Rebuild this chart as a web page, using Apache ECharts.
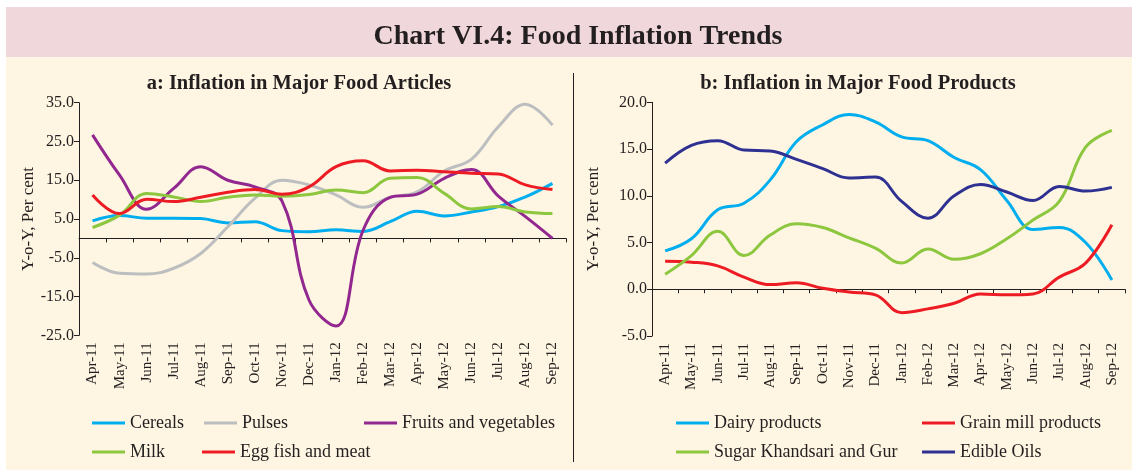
<!DOCTYPE html>
<html>
<head>
<meta charset="utf-8">
<script src="https://cdn.jsdelivr.net/npm/echarts@6/dist/echarts.min.js"></script>
<style>
  html, body { margin: 0; padding: 0; background: #fff; }
  #chart { width: 1132px; height: 470px; }
</style>
</head>
<body>
<div id="chart"></div>
<script>
// months on both panels
var months = ['Apr-11','May-11','Jun-11','Jul-11','Aug-11','Sep-11','Oct-11','Nov-11','Dec-11',
  'Jan-12','Feb-12','Mar-12','Apr-12','May-12','Jun-12','Jul-12','Aug-12','Sep-12']

// panel a: food articles
var cereals = [4.5, 5.9, 5.2, 5.2, 5.1, 4.0, 4.3, 2.0, 1.7, 2.2, 1.8, 4.3, 7.0, 5.8, 6.8, 8.2, 10.7, 14.2]
var pulses = [-6.2, -9.0, -9.2, -7.7, -3.9, 3.0, 10.3, 15.0, 13.8, 11.2, 8.0, 10.6, 12.0, 17.4, 20.4, 28.8, 34.6, 29.2]
var fruitsVeg = [26.7, 16.3, 7.5, 12.9, 18.5, 15.0, 13.3, 9.7, -15.9, -22.6, 2.1, 10.6, 11.4, 15.5, 17.8, 10.9, 5.6, 0.0]
var milk = [2.8, 6.0, 11.6, 10.7, 9.5, 10.6, 11.2, 10.9, 11.3, 12.5, 11.8, 15.5, 15.7, 11.6, 7.6, 8.2, 6.8, 6.4]
var eggFishMeat = [11.2, 6.4, 10.1, 9.5, 10.6, 11.9, 12.6, 11.4, 13.3, 18.5, 20.0, 17.4, 17.6, 17.2, 16.8, 16.6, 13.8, 12.6]
var ticksA = [-25, -15, -5, 5, 15, 25, 35]

// panel b: food products
var dairy = [4.1, 5.4, 8.5, 9.2, 11.7, 15.8, 17.6, 18.7, 17.9, 16.3, 15.9, 14.1, 12.8, 9.5, 6.4, 6.6, 5.0, 1.0]
var grainMill = [3.0, 2.9, 2.5, 1.3, 0.5, 0.7, 0.1, -0.3, -0.6, -2.5, -2.1, -1.5, -0.5, -0.6, -0.5, 1.3, 2.8, 6.9]
var sugar = [1.6, 3.6, 6.2, 3.6, 5.8, 7.0, 6.6, 5.5, 4.4, 2.8, 4.3, 3.2, 3.8, 5.4, 7.4, 9.4, 15.2, 17.0]
var edibleOils = [13.5, 15.4, 15.9, 14.9, 14.8, 13.9, 12.9, 11.9, 12.0, 9.4, 7.6, 10.0, 11.2, 10.4, 9.5, 11.0, 10.5, 10.9]

var font = "'Liberation Serif', 'Times New Roman', serif"
var ink = '#231f20'
var cBlue = '#00aeef', cGrey = '#bcbec0', cPurple = '#92278f', cGreen = '#8dc63f', cRed = '#ed1c24', cNavy = '#2e3192'

var chart = echarts.init(document.getElementById('chart'))

function labelAxis(grid) {
  return {
    type: 'category', gridIndex: grid, data: months, position: 'bottom',
    boundaryGap: true,
    axisLine: { show: false, onZero: false },
    axisTick: { show: false },
    axisLabel: { interval: 0, rotate: 90, margin: 7, fontFamily: font, fontSize: 15, color: ink }
  }
}
function zeroAxis(grid) {
  return {
    type: 'category', gridIndex: grid, data: months, position: 'bottom',
    boundaryGap: true,
    axisLine: { show: true, onZero: true, lineStyle: { color: ink, width: 1 } },
    axisTick: { show: true, interval: 0, length: 4, lineStyle: { color: ink } },
    axisLabel: { show: false }
  }
}
function valAxis(grid, min, max, opts) {
  var ax = {
    type: 'value', gridIndex: grid, min: min, max: max,
    name: 'Y-o-Y, Per cent', nameLocation: 'middle', nameGap: opts.nameGap,
    nameTextStyle: { fontFamily: font, fontSize: 17, color: ink },
    axisLine: { show: true, lineStyle: { color: ink, width: 1 } },
    axisTick: { show: true, length: 5, lineStyle: { color: ink } },
    splitLine: { show: false },
    axisLabel: {
      margin: 5, fontFamily: font, fontSize: 16, color: ink,
      formatter: function (v) { return v.toFixed(1) }
    }
  }
  if (opts.ticks) {
    ax.axisTick.customValues = opts.ticks
    ax.axisLabel.customValues = opts.ticks
  } else {
    ax.interval = opts.interval
  }
  return ax
}
function line(name, data, color, grid) {
  return {
    name: name, type: 'line', data: data,
    xAxisIndex: grid * 2, yAxisIndex: grid,
    smooth: 0.4, showSymbol: false, symbol: 'none',
    lineStyle: { color: color, width: 3 },
    itemStyle: { color: color },
    emphasis: { disabled: true }
  }
}
function legendAt(name, left, top) {
  return {
    data: [name], left: left, top: top, icon: 'rect',
    itemWidth: 33, itemHeight: 3, padding: 0,
    textStyle: { fontFamily: font, fontSize: 18, color: ink }
  }
}

var option = {
  backgroundColor: '#ffffff',
  animation: false,
  graphic: [
    { type: 'rect', z: -10, shape: { x: 6, y: 57, width: 1126, height: 413 }, style: { fill: '#fef6e2' } },
    { type: 'rect', z: -10, shape: { x: 6, y: 7, width: 1126, height: 50 }, style: { fill: '#f0d7db' } },
    { type: 'line', z: 1, shape: { x1: 573.5, y1: 73, x2: 573.5, y2: 462 }, style: { stroke: ink, lineWidth: 1 } }
  ],
  title: [
    { text: 'Chart VI.4: Food Inflation Trends', left: 573, top: 18, textAlign: 'center',
      textStyle: { fontFamily: font, fontSize: 28, fontWeight: 'bold', color: ink } },
    { text: 'a: Inflation in Major Food Articles', left: 294, top: 68, textAlign: 'center',
      textStyle: { fontFamily: font, fontSize: 20.5, fontWeight: 'bold', color: ink } },
    { text: 'b: Inflation in Major Food Products', left: 853, top: 68, textAlign: 'center',
      textStyle: { fontFamily: font, fontSize: 20.5, fontWeight: 'bold', color: ink } }
  ],
  grid: [
    { left: 79, top: 102.7, width: 487, height: 232.6 },
    { left: 652, top: 102.3, width: 473, height: 233.7 }
  ],
  xAxis: [labelAxis(0), zeroAxis(0), labelAxis(1), zeroAxis(1)],
  yAxis: [
    valAxis(0, -25, 35, { ticks: ticksA, nameGap: 40 }),
    valAxis(1, -5, 20, { interval: 5, nameGap: 50 })
  ],
  legend: [
    legendAt('Cereals', 92, 414),
    legendAt('Pulses', 204, 414),
    legendAt('Fruits and vegetables', 364, 414),
    legendAt('Milk', 92, 443),
    legendAt('Egg fish and meat', 202, 443),
    legendAt('Dairy products', 676, 414),
    legendAt('Grain mill products', 922, 414),
    legendAt('Sugar Khandsari and Gur', 676, 443),
    legendAt('Edible Oils', 922, 443)
  ],
  series: [
    line('Cereals', cereals, cBlue, 0),
    line('Pulses', pulses, cGrey, 0),
    line('Fruits and vegetables', fruitsVeg, cPurple, 0),
    line('Milk', milk, cGreen, 0),
    line('Egg fish and meat', eggFishMeat, cRed, 0),
    line('Dairy products', dairy, cBlue, 1),
    line('Grain mill products', grainMill, cRed, 1),
    line('Sugar Khandsari and Gur', sugar, cGreen, 1),
    line('Edible Oils', edibleOils, cNavy, 1)
  ]
}
option && chart.setOption(option)
</script>
</body>
</html>
